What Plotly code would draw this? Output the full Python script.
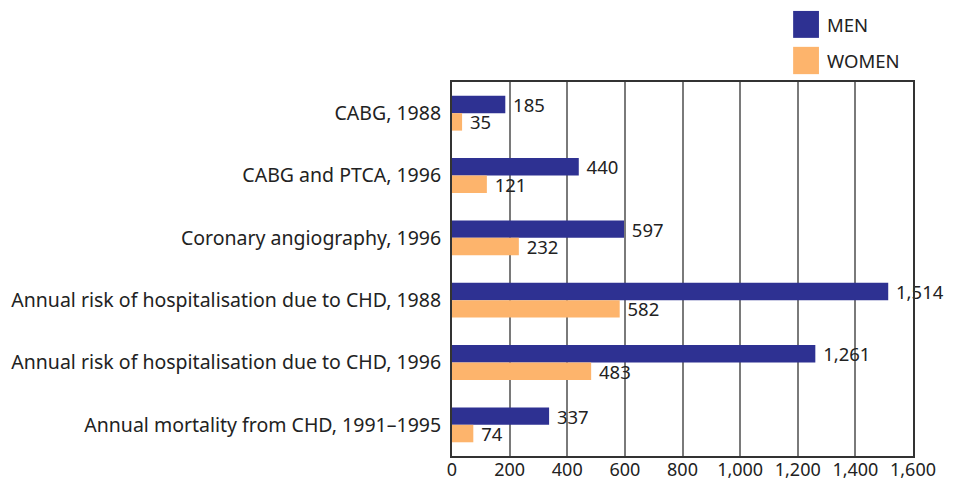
import plotly.graph_objects as go

categories = [
    "CABG, 1988",
    "CABG and PTCA, 1996",
    "Coronary angiography, 1996",
    "Annual risk of hospitalisation due to CHD, 1988",
    "Annual risk of hospitalisation due to CHD, 1996",
    "Annual mortality from CHD, 1991\u20131995",
]
men = [185, 440, 597, 1514, 1261, 337]
women = [35, 121, 232, 582, 483, 74]
series_names = ["MEN", "WOMEN"]
x_ticks = [0, 200, 400, 600, 800, 1000, 1200, 1400, 1600]

MEN_COLOR = "#2E3192"
WOMEN_COLOR = "#FDB46C"
TEXT_COLOR = "#222222"
FONT = "Noto Sans, Open Sans, sans-serif"

fig = go.Figure()
for name, vals, col in [(series_names[0], men, MEN_COLOR), (series_names[1], women, WOMEN_COLOR)]:
    fig.add_trace(go.Bar(
        y=categories, x=vals, orientation="h", name=name,
        marker=dict(color=col, line=dict(width=0)),
        text=["\u00a0" + f"{v:,}" for v in vals],
        textposition="outside", cliponaxis=False, constraintext="none",
        textfont=dict(size=18.5, color=TEXT_COLOR, family=FONT),
        showlegend=False,
    ))

# custom legend with large swatches
legend_items = [(series_names[0], MEN_COLOR, 1.190, 1.118), (series_names[1], WOMEN_COLOR, 1.094, 1.021)]
for name, col, y1, y0 in legend_items:
    fig.add_shape(type="rect", xref="paper", yref="paper", x0=0.740, x1=0.796, y0=y0, y1=y1,
                  fillcolor=col, line=dict(width=0))
    fig.add_annotation(xref="paper", yref="paper", x=0.809, y=(y0 + y1) / 2, text=name,
                       showarrow=False, xanchor="left", yanchor="middle",
                       font=dict(size=18.5, color=TEXT_COLOR, family=FONT))

fig.update_layout(
    width=954, height=480,
    margin=dict(l=452, r=41, t=82, b=24, autoexpand=False),
    barmode="group", bargap=0.44, bargroupgap=0,
    plot_bgcolor="white", paper_bgcolor="white",
    font=dict(family=FONT, size=18.5, color=TEXT_COLOR),
    showlegend=False,
)
fig.update_xaxes(
    range=[0, 1600], tickvals=x_ticks, ticktext=[f"{t:,}" for t in x_ticks],
    showgrid=True, gridcolor="#7a7a7a", gridwidth=1.5,
    showline=True, linecolor="#333333", linewidth=2, mirror=True,
    ticks="", zeroline=False, tickfont=dict(size=18), automargin=False,
    ticklabelstandoff=-4,
)
fig.update_yaxes(
    autorange="reversed", showgrid=False,
    showline=True, linecolor="#333333", linewidth=2, mirror=True,
    ticks="", ticklabelstandoff=5, tickfont=dict(size=19.5), automargin=False,
)

fig.write_html("out.html", config={"displayModeBar": False},
               post_script="document.body.style.margin='0';document.body.style.padding='0';")
